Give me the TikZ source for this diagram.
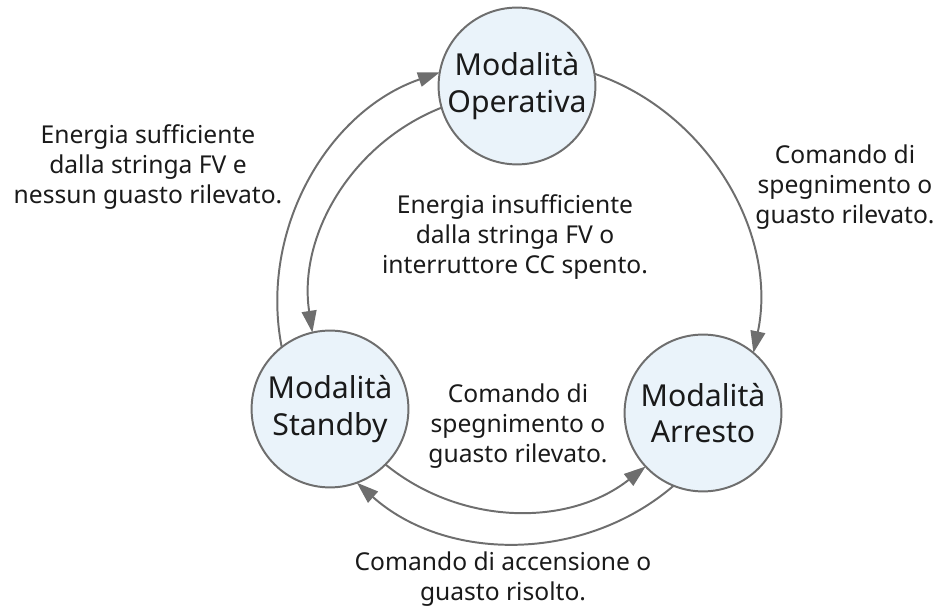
\documentclass[tikz,border=0pt]{standalone}
\usepackage{fontspec}
\setmainfont{Noto Sans}
\usetikzlibrary{arrows.meta}
\definecolor{linegray}{HTML}{6E6E6E}
\definecolor{modefill}{HTML}{EAF3FA}
\definecolor{textgray}{HTML}{1A1A1A}
\begin{document}
\begin{tikzpicture}[x=0.025cm, y=0.025cm,
		mode/.style = {draw=linegray, line width=1.4pt, circle, fill=modefill, minimum size=3.92cm, inner sep=0pt, outer sep=0pt, align=center, text=textgray, font=\fontsize{21.5}{26}\selectfont},
		note/.style = {align=center, text=textgray, font=\fontsize{17.5}{21.3}\selectfont},
		flow/.style = {draw=linegray, line width=1.4pt, -{Triangle[length=15.5pt, width=10.5pt]}, looseness=0.96}]
			\useasboundingbox (0,0) rectangle (939,612);
			\node[mode] (oper) at (517,526) {Modalità\\Operativa};
			\node[mode] (stby) at (330,203) {Modalità\\Standby};
			\node[mode] (arr) at (703,199) {Modalità\\Arresto};
			\node[note] (n-on) at (148,445) {Energia sufficiente\\dalla stringa FV e\\nessun guasto rilevato.};
			\node[note] (n-low) at (515,375) {Energia insufficiente\\dalla stringa FV o\\interruttore CC spento.};
			\node[note] (n-off) at (845,425) {Comando di\\spegnimento o\\guasto rilevato.};
			\node[note] (n-stop) at (518,186) {Comando di\\spegnimento o\\guasto rilevato.};
			\node[note] (n-back) at (503,33) {Comando di accensione o\\guasto risolto.};
			\draw[flow] (stby.128.6) to[bend left=41] (oper.170.9);
			\draw[flow] (oper.196.4) to[bend right=38.5] (stby.103.1);
			\draw[flow] (oper.9.1) to[bend left=41.6] (arr.50.3);
			\draw[flow] (stby.315.9) to[bend right=38.7] (arr.223);
			\draw[flow] (arr.248.5) to[bend left=41.2] (stby.290.4);
		\end{tikzpicture}
\end{document}
